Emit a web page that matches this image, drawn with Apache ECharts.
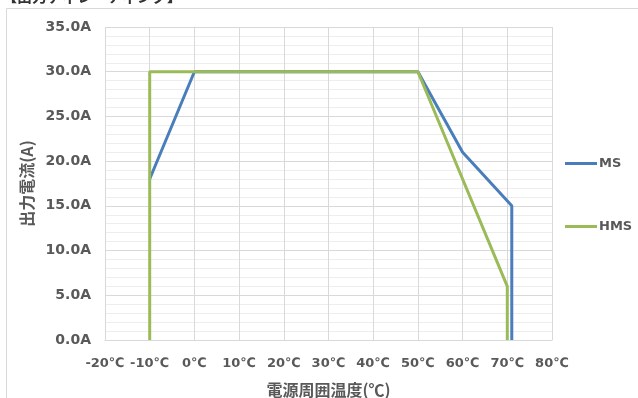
<!DOCTYPE html>
<html>
<head>
<meta charset="utf-8">
<script src="https://cdn.jsdelivr.net/npm/echarts@6/dist/echarts.min.js"></script>
<style>
    html, body { margin: 0; padding: 0; background: #fff; }
    #main { width: 638px; height: 398px; }
</style>
</head>
<body>
<div id="main"></div>
<script>
    // 温度(℃) と 出力電流(A)
    var msTemp = [-10, 0, 50, 60, 71, 71];
    var msCurrent = [18, 30, 30, 21, 15, 0];
    var hmsTemp = [-10, -10, 50, 70, 70];
    var hmsCurrent = [0, 30, 30, 6, 0];
    var seriesNames = ['MS', 'HMS'];
    var xTicks = [-20, -10, 0, 10, 20, 30, 40, 50, 60, 70, 80];
    var yTicks = [0, 5, 10, 15, 20, 25, 30, 35];

    function pairs(xs, ys) {
        var out = [];
        for (var i = 0; i < xs.length; i++) {
            out.push([xs[i], ys[i]]);
        }
        return out;
    }

    var labelFont = "'DejaVu Sans', 'Noto Sans CJK JP', sans-serif";
    var cjkFont = "'Noto Sans CJK JP', sans-serif";

    var myChart = echarts.init(document.getElementById('main'));

    var option = {
        animation: false,
        backgroundColor: '#fff',
        graphic: [{
            type: 'rect',
            shape: { x: 6.5, y: 8.5, width: 700, height: 500 },
            style: { fill: 'none', stroke: '#d9d9d9', lineWidth: 1 },
            silent: true
        }, {
            type: 'text',
            left: 2,
            top: -11,
            style: {
                text: '【出力ディレーティング】',
                fontFamily: cjkFont,
                fontSize: 15,
                fontWeight: 'bold',
                fill: '#333'
            },
            silent: true
        }],
        grid: {
            left: 105,
            right: 86,
            top: 27,
            bottom: 58,
            outerBoundsMode: 'none'
        },
        legend: {
            orient: 'vertical',
            left: 565,
            top: 157,
            padding: 0,
            icon: 'rect',
            itemWidth: 32,
            itemHeight: 3,
            itemGap: 50,
            data: seriesNames,
            textStyle: {
                color: '#595959',
                fontFamily: labelFont,
                fontSize: 13,
                fontWeight: 'bold',
                padding: [0, 0, 0, -3]
            }
        },
        xAxis: {
            type: 'value',
            min: xTicks[0],
            max: xTicks[xTicks.length - 1],
            interval: 10,
            name: '電源周囲温度(℃)',
            nameLocation: 'middle',
            nameGap: 42,
            nameTextStyle: {
                color: '#595959',
                fontFamily: cjkFont,
                fontSize: 16,
                fontWeight: 'bold'
            },
            axisLine: { show: true, lineStyle: { color: '#d9d9d9', width: 1 } },
            axisTick: { show: false },
            axisLabel: {
                margin: 17,
                color: '#595959',
                fontFamily: labelFont,
                fontSize: 13,
                fontWeight: 'bold',
                formatter: '{value}℃'
            },
            splitLine: { show: true, lineStyle: { color: '#d9d9d9', width: 1 } }
        },
        yAxis: {
            type: 'value',
            min: yTicks[0],
            max: yTicks[yTicks.length - 1],
            interval: 5,
            name: '出力電流(A)',
            nameLocation: 'middle',
            nameGap: 67,
            nameTextStyle: {
                color: '#595959',
                fontFamily: cjkFont,
                fontSize: 16,
                fontWeight: 'bold'
            },
            axisLine: { show: true, lineStyle: { color: '#d9d9d9', width: 1 } },
            axisTick: { show: false },
            axisLabel: {
                margin: 14,
                color: '#595959',
                fontFamily: labelFont,
                fontSize: 14,
                fontWeight: 'bold',
                formatter: function (v) { return v.toFixed(1) + 'A'; }
            },
            splitLine: { show: true, lineStyle: { color: '#d9d9d9', width: 1 } },
            minorTick: { show: false, splitNumber: 5 },
            minorSplitLine: { show: true, lineStyle: { color: '#ededed', width: 1 } }
        },
        series: [{
            name: seriesNames[0],
            type: 'line',
            data: pairs(msTemp, msCurrent),
            symbol: 'none',
            color: '#4a7ebb',
            lineStyle: { width: 3, color: '#4a7ebb' },
            z: 2
        }, {
            name: seriesNames[1],
            type: 'line',
            data: pairs(hmsTemp, hmsCurrent),
            symbol: 'none',
            color: '#9bbb59',
            lineStyle: { width: 3, color: '#9bbb59' },
            z: 3
        }]
    };

    myChart.setOption(option);
</script>
</body>
</html>
